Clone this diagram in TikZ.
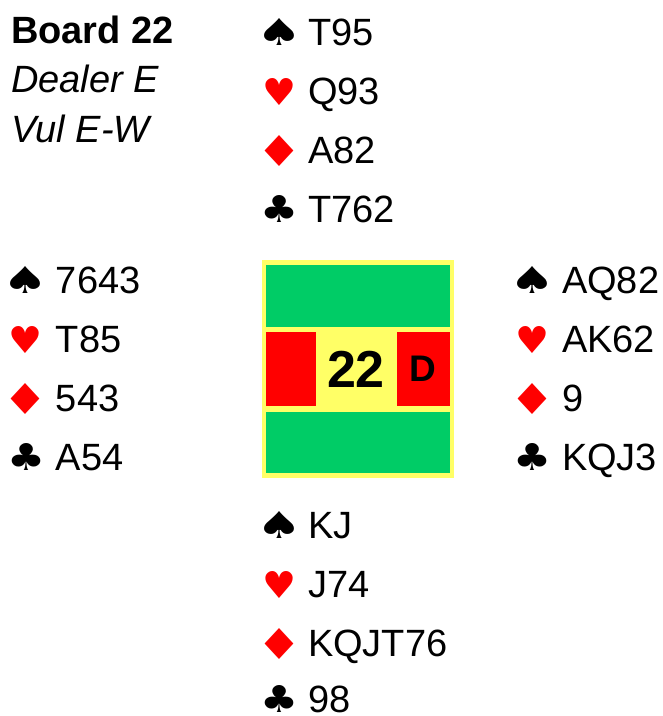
\documentclass[tikz,border=0pt]{standalone}
\usepackage{fontspec}
\usepackage{graphicx}
\setmainfont{Liberation Sans}
\newfontfamily\symfont{DejaVu Sans}
\definecolor{boxyellow}{HTML}{FFFF66}
\definecolor{boxgreen}{HTML}{00CC66}
\definecolor{boxred}{HTML}{FF0000}
\newcommand{\suitglyph}[3]{\resizebox{#1pt}{#2pt}{\symfont\fontsize{36}{36}\selectfont #3}}
\newcommand{\Sp}{\suitglyph{46}{27}{♠}}
\newcommand{\Hs}{\suitglyph{34}{27}{♥}}
\newcommand{\Di}{\suitglyph{46}{31}{♦}}
\newcommand{\Cl}{\suitglyph{38}{27}{♣}}
\tikzset{
  txt/.style={anchor=base west,inner sep=0pt,outer sep=0pt,font=\fontsize{38}{38}\selectfont},
  sym/.style={anchor=base,inner sep=0pt,outer sep=0pt},
  blk/.style={sym,text=black},
  rd/.style={sym,text=boxred},
}
\begin{document}
\begin{tikzpicture}[x=1pt,y=-1pt]
\useasboundingbox (0,0) rectangle (663,716);
% title
\node[txt,font=\bfseries\fontsize{38}{38}\selectfont] (title) at (11,43) {Board 22};
\node[txt,font=\itshape\fontsize{38}{38}\selectfont] (dealer) at (11,92) {Dealer E};
\node[txt,font=\itshape\fontsize{38}{38}\selectfont] (vul) at (11,142) {Vul E-W};
% North
\node[blk] (ns) at (279,45) {\Sp};  \node[txt] (nst) at (308,45) {T95};
\node[rd]  (nh) at (279,105) {\Hs}; \node[txt] (nht) at (308,104) {Q93};
\node[rd]  (nd) at (279,166) {\Di}; \node[txt] (ndt) at (308,163) {A82};
\node[blk] (nc) at (279,222) {\Cl}; \node[txt] (nct) at (308,222) {T762};
% West
\node[blk] (ws) at (26,293) {\Sp};  \node[txt] (wst) at (56,293) {7643};
\node[rd]  (wh) at (26,353) {\Hs};  \node[txt] (wht) at (56,352) {T85};
\node[rd]  (wd) at (26,414) {\Di};  \node[txt] (wdt) at (56,411) {543};
\node[blk] (wc) at (26,470) {\Cl};  \node[txt] (wct) at (56,470) {A54};
% East
\node[blk] (es) at (532,293) {\Sp}; \node[txt] (est) at (562,293) {AQ82};
\node[rd]  (eh) at (532,353) {\Hs}; \node[txt] (eht) at (562,352) {AK62};
\node[rd]  (ed) at (532,414) {\Di}; \node[txt] (edt) at (562,411) {9};
\node[blk] (ec) at (532,470) {\Cl}; \node[txt] (ect) at (562,470) {KQJ3};
% South
\node[blk] (ss) at (279,538) {\Sp}; \node[txt] (sst) at (308,538) {KJ};
\node[rd]  (sh) at (279,598) {\Hs}; \node[txt] (sht) at (308,597) {J74};
\node[rd]  (sd) at (279,659) {\Di}; \node[txt] (sdt) at (308,656) {KQJT76};
\node[blk] (sc) at (279,712) {\Cl}; \node[txt] (sct) at (308,712) {98};
% board box
\fill[boxyellow] (262,260) rectangle (454,478);
\fill[boxgreen] (266,265) rectangle (450,327);
\fill[boxgreen] (266,412) rectangle (450,473);
\fill[boxred] (266,332) rectangle (316,406);
\fill[boxred] (397,332) rectangle (450,406);
\node[inner sep=0pt,font=\bfseries\fontsize{52}{52}\selectfont] (num) at (356,369) {22};
\node[inner sep=0pt,font=\bfseries\fontsize{37}{37}\selectfont] (dealerD) at (423,369) {D};
\end{tikzpicture}
\end{document}
